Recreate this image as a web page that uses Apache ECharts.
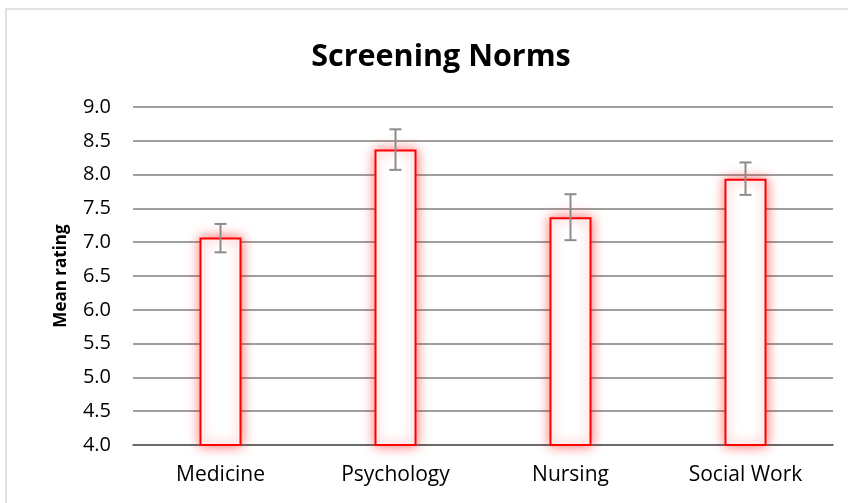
<!DOCTYPE html>
<html><head><meta charset="utf-8">
<script src="https://cdn.jsdelivr.net/npm/echarts@6/dist/echarts.min.js"></script>
<style>html,body{margin:0;padding:0;background:#fff}#c{width:848px;height:503px}</style>
</head><body><div id="c"></div>
<script>
const categories = ['Medicine', 'Psychology', 'Nursing', 'Social Work'];
const means = [7.07, 8.37, 7.37, 7.94];
const errLow = [6.85, 8.07, 7.03, 7.70];
const errHigh = [7.27, 8.67, 7.71, 8.18];
const yTicks = ['4.0','4.5','5.0','5.5','6.0','6.5','7.0','7.5','8.0','8.5','9.0'];

const FONT = '"Open Sans", sans-serif';
const chart = echarts.init(document.getElementById('c'), null, {renderer: 'canvas'});
chart.setOption({
  animation: false,
  backgroundColor: '#fff',
  graphic: [{type: 'rect', shape: {x: 6, y: 9, width: 900, height: 600},
    style: {fill: 'none', stroke: '#d9d9d9', lineWidth: 1.5}, silent: true, z: -1}],
  title: {text: 'Screening Norms', left: 436, top: 37, textAlign: 'center',
    textStyle: {fontFamily: FONT, fontSize: 30.5, fontWeight: 'bold', color: '#000'}},
  grid: {left: 133, right: 15, top: 107, bottom: 58},
  xAxis: {type: 'category', data: categories,
    axisLine: {show: true, lineStyle: {color: '#595959', width: 1.5}},
    axisTick: {show: false},
    axisLabel: {fontFamily: FONT, fontSize: 21, color: '#000', margin: 20}},
  yAxis: {type: 'value', min: 4, max: 9, interval: 0.5,
    name: 'Mean rating', nameLocation: 'middle', nameGap: 63, nameRotate: 90,
    nameTextStyle: {fontFamily: FONT, fontSize: 17, fontWeight: 'bold', color: '#000'},
    axisLine: {show: false}, axisTick: {show: false},
    axisLabel: {fontFamily: FONT, fontSize: 20, color: '#000', margin: 22,
      formatter: v => yTicks[Math.round((v - 4) * 2)]},
    splitLine: {lineStyle: {color: '#7f7f7f', width: 1.5}}},
  series: [
    {type: 'bar', data: means, barWidth: '24%',
      itemStyle: {color: '#fff', borderColor: '#ff0000', borderWidth: 2,
        shadowColor: 'rgba(255,0,0,0.55)', shadowBlur: 12}},
    {type: 'custom', z: 10,
      data: categories.map((c, i) => [i, errLow[i], errHigh[i]]),
      renderItem: (params, api) => {
        const lo = api.coord([api.value(0), api.value(1)]);
        const hi = api.coord([api.value(0), api.value(2)]);
        const hw = 6;
        const st = {stroke: '#8c8c8c', lineWidth: 2};
        return {type: 'group', children: [
          {type: 'line', shape: {x1: lo[0], y1: lo[1], x2: hi[0], y2: hi[1]}, style: st},
          {type: 'line', shape: {x1: lo[0]-hw, y1: lo[1], x2: lo[0]+hw, y2: lo[1]}, style: st},
          {type: 'line', shape: {x1: hi[0]-hw, y1: hi[1], x2: hi[0]+hw, y2: hi[1]}, style: st}
        ]};
      }}
  ]
});
</script></body></html>
